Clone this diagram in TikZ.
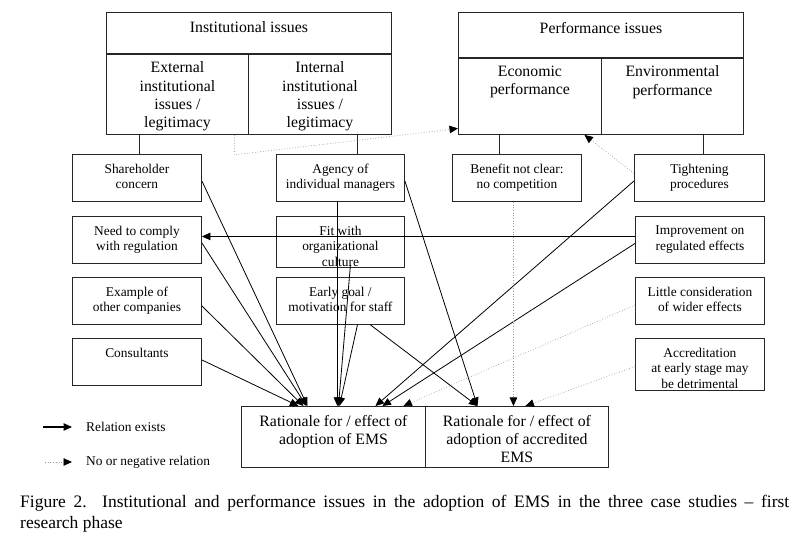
\documentclass[tikz,border=0pt]{standalone}
\usepackage{fontspec}
\setmainfont{Liberation Serif}
\usetikzlibrary{arrows.meta}
\begin{document}
\begin{tikzpicture}[x=1pt,y=-1pt,
  box/.style={draw=black!85, line width=0.9pt, inner sep=0pt, anchor=north west},
  sm/.style={font=\fontsize{13.4}{15.7}\selectfont, align=center, inner sep=0pt, anchor=north},
  big/.style={font=\fontsize{15.8}{18.3}\selectfont, align=center, inner sep=0pt, anchor=north},
  rel/.style={line width=0.8pt, -{Triangle[length=8.5pt,width=7.5pt]}},
  neg/.style={line width=0.7pt, black!40, dotted, -{Triangle[length=8.5pt,width=7.5pt,color=black]}},
  link/.style={line width=0.9pt, draw=black!85},
]
\useasboundingbox (0,0) rectangle (812,534);

% top composite boxes
\node[box, minimum width=285pt, minimum height=41pt] (ii) at (106,12) {};
\node[box, minimum width=142pt, minimum height=81pt] (ext) at (106,53) {};
\node[box, minimum width=143pt, minimum height=81pt] (int) at (248,53) {};
\draw[line width=1.8pt, black!85] (ii.south west) -- (ii.south east);
\node[big] at ([yshift=-9.8pt]ii.north) {Institutional issues};
\node[big] at ([yshift=-8.8pt]ext.north) {External\\institutional\\issues /\\legitimacy};
\node[big] at ([yshift=-8.8pt]int.north) {Internal\\institutional\\issues /\\legitimacy};

\node[box, minimum width=285pt, minimum height=45pt] (pi) at (458,12) {};
\node[box, minimum width=143pt, minimum height=77pt] (econ) at (458,57) {};
\node[box, minimum width=142pt, minimum height=77pt] (env) at (601,57) {};
\draw[line width=1.8pt, black!85] (pi.south west) -- (pi.south east);
\node[big] at ([yshift=-9.8pt]pi.north) {Performance issues};
\node[big] at ([yshift=-8.8pt]econ.north) {Economic\\performance};
\node[big] at ([yshift=-8.8pt]env.north) {Environmental\\performance};

% small boxes
\node[box, minimum width=129pt, minimum height=47pt] (sh) at (72,154) {};
\node[box, minimum width=128pt, minimum height=47pt] (ag) at (276,154) {};
\node[box, minimum width=129pt, minimum height=47pt] (bn) at (452,154) {};
\node[box, minimum width=130pt, minimum height=47pt] (tp) at (634,154) {};
\node[box, minimum width=129pt, minimum height=47pt] (nc) at (72,216) {};
\node[box, minimum width=128pt, minimum height=51pt] (fit) at (276,216) {};
\node[box, minimum width=129pt, minimum height=47pt] (im) at (635,216) {};
\node[box, minimum width=129pt, minimum height=47pt] (ex) at (72,277) {};
\node[box, minimum width=128pt, minimum height=47pt] (eg) at (276,277) {};
\node[box, minimum width=129pt, minimum height=47pt] (lc) at (635,277) {};
\node[box, minimum width=129pt, minimum height=47pt] (co) at (72,338) {};
\node[box, minimum width=129pt, minimum height=52pt] (ac) at (635,338) {};

\node[sm] at ([yshift=-9.6pt]sh.north) {Shareholder\\concern};
\node[sm] at ([yshift=-9.6pt]ag.north) {Agency of\\individual managers};
\node[sm] at ([yshift=-9.6pt]bn.north) {Benefit not clear:\\no competition};
\node[sm] at ([yshift=-9.6pt]tp.north) {Tightening\\procedures};
\node[sm] at ([yshift=-9.6pt]nc.north) {Need to comply\\with regulation};
\node[sm] at ([yshift=-9.6pt]fit.north) {Fit with\\organizational\\culture};
\node[sm] at ([yshift=-9.6pt]im.north) {Improvement on\\regulated effects};
\node[sm] at ([yshift=-9.6pt]ex.north) {Example of\\other companies};
\node[sm] at ([yshift=-9.6pt]eg.north) {Early goal /\\motivation for staff};
\node[sm] at ([yshift=-9.6pt]lc.north) {Little consideration\\of wider effects};
\node[sm] at ([yshift=-9.6pt]co.north) {Consultants};
\node[sm] at ([yshift=-9.6pt]ac.north) {Accreditation\\at early stage may\\be detrimental};

% bottom boxes
\node[box, minimum width=184pt, minimum height=61pt] (ra) at (241,406) {};
\node[box, minimum width=183pt, minimum height=61pt] (rb) at (425,406) {};
\node[big] at ([yshift=-8.8pt]ra.north) {Rationale for / effect of\\adoption of EMS};
\node[big] at ([yshift=-8.8pt]rb.north) {Rationale for / effect of\\adoption of accredited\\EMS};

% plain links
\draw[link] ([xshift=-38pt]ext.south) -- ([xshift=-38pt]ext.south |- sh.north);
\draw[link] ([xshift=37.5pt]int.south) -- ([xshift=37.5pt]int.south |- ag.north);
\draw[link] ([xshift=-30.5pt]econ.south) -- ([xshift=-30.5pt]econ.south |- bn.north);
\draw[link] ([xshift=31pt]env.south) -- ([xshift=31pt]env.south |- tp.north);

% relation arrows
\draw[rel] ([yshift=-3pt]sh.east) -- ([xshift=-26pt]ra.north);
\draw[rel] ([yshift=-3pt]nc.east) -- ([xshift=-27pt]ra.north);
\draw[rel] ([yshift=-5pt]ex.east) -- ([xshift=-30pt]ra.north);
\draw[rel] ([yshift=2pt]co.east) -- ([xshift=-35pt]ra.north);
\draw[rel] ([xshift=-3pt]ag.south) -- ([xshift=4pt]ra.north);
\draw[rel] ([xshift=10pt,yshift=3pt]fit.south) -- ([xshift=5pt]ra.north);
\draw[rel] ([xshift=17pt]eg.south) -- ([xshift=6pt]ra.north);
\draw[rel] ([yshift=-3pt]tp.east -| tp.west) -- ([xshift=42pt]ra.north);
\draw[rel] ([yshift=-3.5pt]im.west) -- ([xshift=49pt]ra.north);
\draw[rel] ([yshift=3.5pt]im.west) -- ([yshift=3.5pt]nc.east);
\draw[rel] ([xshift=30pt]eg.south) -- ([xshift=-39.5pt]rb.north);
\draw[rel] ([yshift=-3pt]ag.east) -- ([xshift=-39.5pt]rb.north);

% no or negative relation
\draw[neg] ([yshift=-4pt]lc.west) -- ([xshift=70pt]ra.north);
\draw[neg] ([xshift=-3.5pt]bn.south) -- ([xshift=-3.5pt]rb.north);
\draw[neg] ([yshift=-2pt]ac.west) -- ([xshift=8.5pt]rb.north);
\draw[neg] ([yshift=4.5pt]tp.west) -- ([xshift=54.5pt]econ.south);
\coordinate (dk) at ([xshift=57pt,yshift=-20pt]ext.south);
\draw[neg] ([xshift=57pt]ext.south) -- (dk) -- ([yshift=-32.5pt]econ.west);

% legend
\coordinate (la) at (43,427);
\coordinate (lb) at (72,427);
\coordinate (lc1) at (45,462);
\coordinate (ld) at (72,462);
\draw[rel, line width=1.1pt] (la) -- (lb);
\draw[neg] (lc1) -- (ld);
\node[sm, anchor=west] (lt1) at (86,427) {Relation exists};
\node[sm, anchor=west] (lt2) at (86,462) {No or negative relation};

% caption
\node[anchor=north west, inner sep=0pt, font=\fontsize{17.5}{20.5}\selectfont, align=left] (cap) at (20,495)
  {\makebox[769pt][s]{Figure 2. Institutional and performance issues in the adoption of EMS in the three case studies – first}\\research phase};
\end{tikzpicture}
\end{document}
